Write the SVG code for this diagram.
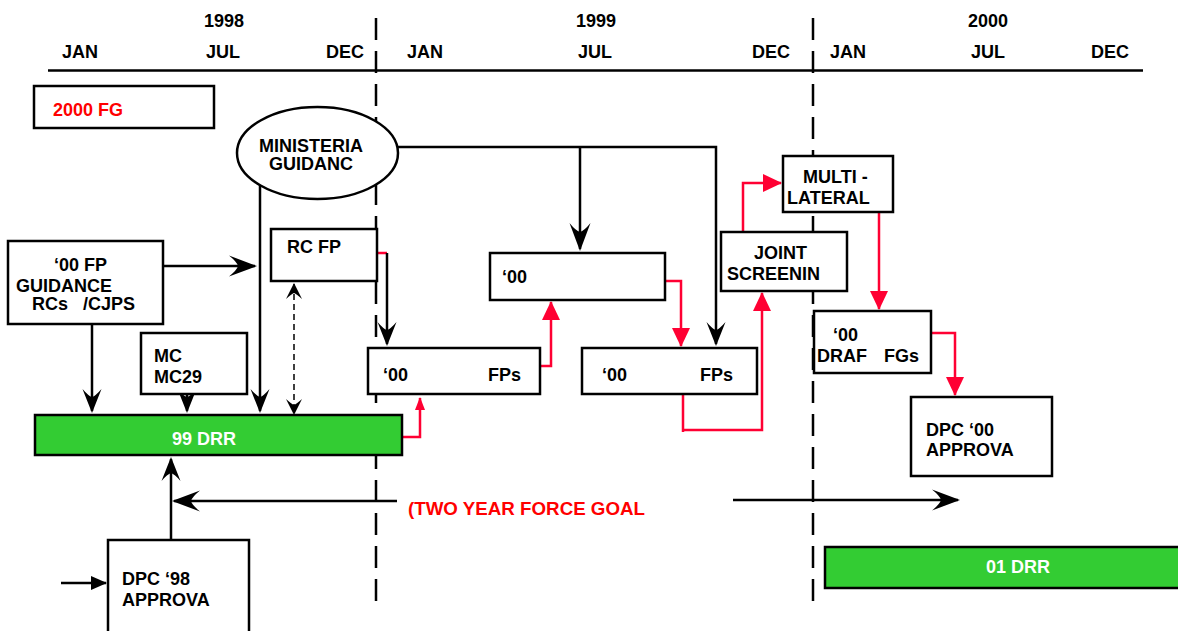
<svg xmlns="http://www.w3.org/2000/svg" width="1178" height="631" viewBox="0 0 1178 631">
<style>
text{font-family:"Liberation Sans",Arial,sans-serif;font-weight:bold;font-size:18px;fill:#000}
.red{fill:#FF0000}
.wt{fill:#FFFFFF}
.box{fill:#FFFFFF;stroke:#000;stroke-width:2.5}
.grn{fill:#33CC33;stroke:#000;stroke-width:2.5}
.blk{fill:none;stroke:#000;stroke-width:2.5}
.rl{fill:none;stroke:#FF0033;stroke-width:2.5}
.dash{fill:none;stroke:#000;stroke-width:2.5;stroke-dasharray:22 11}
</style>
<defs>
<marker id="barb" viewBox="-28 -12 30 24" refX="0" refY="0" markerWidth="30" markerHeight="24" markerUnits="userSpaceOnUse" orient="auto">
<path d="M2,0 L-26,-10.5 Q-18,-4 -17,0 Q-18,4 -26,10.5 Z" fill="#000"/>
</marker>
<marker id="barbS" viewBox="-25 -11 27 22" refX="0" refY="0" markerWidth="27" markerHeight="22" markerUnits="userSpaceOnUse" orient="auto">
<path d="M2,0 L-22,-9.5 Q-15,-3.5 -14,0 Q-15,3.5 -22,9.5 Z" fill="#000"/>
</marker>
<marker id="vee" viewBox="-18 -10 20 20" refX="0" refY="0" markerWidth="20" markerHeight="20" markerUnits="userSpaceOnUse" orient="auto-start-reverse">
<path d="M1,0 L-15,-8 Q-10,-2.5 -9,0 Q-10,2.5 -15,8 Z" fill="#000"/>
</marker>
<marker id="tri" viewBox="-17 -8 18 16" refX="0" refY="0" markerWidth="18" markerHeight="16" markerUnits="userSpaceOnUse" orient="auto">
<path d="M1,0 L-15,-7 L-15,7Z" fill="#000"/>
</marker>
<marker id="rtri" viewBox="-20 -10 22 20" refX="0" refY="0" markerWidth="22" markerHeight="20" markerUnits="userSpaceOnUse" orient="auto">
<path d="M1,0 L-18,-9 L-18,9Z" fill="#FF0033"/>
</marker>
<marker id="rtriS" viewBox="-14 -6 15 12" refX="0" refY="0" markerWidth="15" markerHeight="12" markerUnits="userSpaceOnUse" orient="auto">
<path d="M1,0 L-12,-5 L-12,5Z" fill="#FF0033"/>
</marker>
</defs>

<g id="timeline">
<line x1="48" y1="70.5" x2="1143" y2="70.5" stroke="#000" stroke-width="2.5"/>
<line class="dash" x1="376" y1="18" x2="376" y2="608"/>
<line class="dash" x1="813" y1="18" x2="813" y2="608"/>
<g text-anchor="middle">
<text x="224" y="27">1998</text>
<text x="596" y="27">1999</text>
<text x="988" y="27">2000</text>
<text x="80" y="58">JAN</text>
<text x="223" y="58">JUL</text>
<text x="345" y="58">DEC</text>
<text x="425" y="58">JAN</text>
<text x="595" y="58">JUL</text>
<text x="771" y="58">DEC</text>
<text x="848" y="58">JAN</text>
<text x="988" y="58">JUL</text>
<text x="1110" y="58">DEC</text>
</g>
</g>

<g id="connectors">
<path class="blk" d="M163,266 H255" marker-end="url(#barb)"/>
<path class="blk" d="M92,324 V411" marker-end="url(#barbS)"/>
<path class="blk" d="M187,394 V411" marker-end="url(#barbS)"/>
<path class="blk" d="M260,184 V411" marker-end="url(#barbS)"/>
<path class="blk" d="M398,147 H716 V344" marker-end="url(#barbS)"/>
<path class="blk" d="M580,147 V249" marker-end="url(#barb)"/>
<path class="rl" d="M377,253 H387"/>
<path class="blk" d="M387,253 V344" marker-end="url(#barbS)"/>
<path class="blk" d="M171,540 V459" marker-end="url(#barbS)"/>
<path class="blk" d="M397,501 H174" marker-end="url(#barb)"/>
<path class="blk" d="M733,500 H958" marker-end="url(#barb)"/>
<path class="blk" d="M61,583 H106" marker-end="url(#tri)"/>
<path d="M294,284 V414" fill="none" stroke="#000" stroke-width="1.5" stroke-dasharray="6 4" marker-start="url(#vee)" marker-end="url(#vee)"/>
<path class="rl" d="M402,437 H420 V398" marker-end="url(#rtriS)"/>
<path class="rl" d="M540,366 H551 V302" marker-end="url(#rtri)"/>
<path class="rl" d="M665,281 H681 V346" marker-end="url(#rtri)"/>
<path class="rl" d="M683,394 V432 M683,430 H762 V293" marker-end="url(#rtri)"/>
<path class="rl" d="M743,232 V183 H781" marker-end="url(#rtri)"/>
<path class="rl" d="M879,212 V309" marker-end="url(#rtri)"/>
<path class="rl" d="M931,333 H955 V395" marker-end="url(#rtri)"/>
</g>

<g id="fg2000"><rect class="box" x="34" y="86" width="180" height="42"/><text class="red" x="53" y="116">2000 FG</text></g>
<g id="ministerial"><ellipse class="box" cx="317.5" cy="153" rx="80.5" ry="46"/><text x="311" y="152" text-anchor="middle">MINISTERIA</text><text x="311" y="170" text-anchor="middle">GUIDANC</text></g>
<g id="fpguidance"><rect class="box" x="8" y="241" width="155" height="83"/><text x="54" y="271">‘00 FP</text><text x="16" y="292">GUIDANCE</text><text x="32" y="310">RCs</text><text x="83" y="310">/CJPS</text></g>
<g id="rcfp"><rect class="box" x="271" y="229" width="106" height="52"/><text x="287" y="253">RC FP</text></g>
<g id="mc"><rect class="box" x="141" y="333" width="106" height="61"/><text x="154" y="362">MC</text><text x="154" y="383">MC29</text></g>
<g id="drr99"><rect class="grn" x="35" y="415" width="367" height="40"/><text class="wt" x="204" y="445" text-anchor="middle">99 DRR</text></g>
<g id="fps1"><rect class="box" x="368" y="348" width="172" height="46"/><text x="383" y="381">‘00</text><text x="488" y="381">FPs</text></g>
<g id="p00"><rect class="box" x="490" y="253" width="175" height="47"/><text x="502" y="283">‘00</text></g>
<g id="fps2"><rect class="box" x="582" y="348" width="175" height="46"/><text x="602" y="381">‘00</text><text x="700" y="381">FPs</text></g>
<g id="joint"><rect class="box" x="721" y="232" width="126" height="59"/><text x="754" y="259">JOINT</text><text x="727" y="280">SCREENIN</text></g>
<g id="multi"><rect class="box" x="783" y="156" width="110" height="56"/><text x="803" y="183">MULTI -</text><text x="787" y="204">LATERAL</text></g>
<g id="draf"><rect class="box" x="814" y="311" width="117" height="62"/><text x="833" y="341">‘00</text><text x="817" y="362">DRAF</text><text x="884" y="362">FGs</text></g>
<g id="dpc00"><rect class="box" x="911" y="397" width="141" height="79"/><text x="926" y="436">DPC ‘00</text><text x="926" y="456">APPROVA</text></g>
<g id="dpc98"><rect class="box" x="108" y="540" width="141" height="100"/><text x="122" y="585">DPC ‘98</text><text x="122" y="606">APPROVA</text></g>
<g id="drr01"><rect class="grn" x="825" y="547" width="360" height="41"/><text class="wt" x="1018" y="573" text-anchor="middle">01 DRR</text></g>
<g id="twoyear"><text class="red" x="408" y="515" textLength="237" lengthAdjust="spacingAndGlyphs">(TWO YEAR FORCE GOAL</text></g>
</svg>
